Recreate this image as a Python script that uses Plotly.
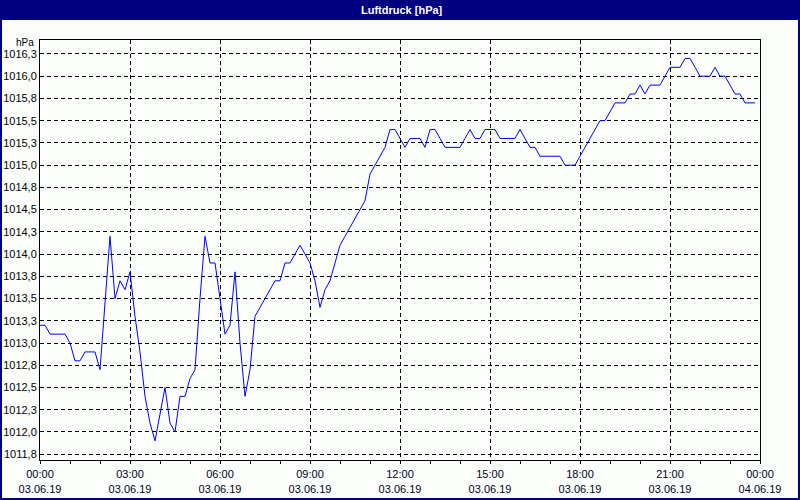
import plotly.graph_objects as go
import pandas as pd

# ---- data (10-minute readings, 03.06.19 00:00 .. 23:50) ----
start_time = "2019-06-03 00:00"
pressure_hpa = [
    1013.2, 1013.2, 1013.1, 1013.1, 1013.1, 1013.1, 1013.0, 1012.8, 1012.8, 1012.9, 1012.9, 1012.9,
    1012.7, 1013.5, 1014.2, 1013.5, 1013.7, 1013.6, 1013.8, 1013.3, 1012.9, 1012.4, 1012.1, 1011.9,
    1012.2, 1012.5, 1012.1, 1012.0, 1012.4, 1012.4, 1012.6, 1012.7, 1013.5, 1014.2, 1013.9, 1013.9,
    1013.5, 1013.1, 1013.2, 1013.8, 1013.0, 1012.4, 1012.7, 1013.3, 1013.4, 1013.5, 1013.6, 1013.7,
    1013.7, 1013.9, 1013.9, 1014.0, 1014.1, 1014.0, 1013.9, 1013.7, 1013.4, 1013.6, 1013.7, 1013.9,
    1014.1, 1014.2, 1014.3, 1014.4, 1014.5, 1014.6, 1014.9, 1015.0, 1015.1, 1015.2, 1015.4, 1015.4,
    1015.3, 1015.2, 1015.3, 1015.3, 1015.3, 1015.2, 1015.4, 1015.4, 1015.3, 1015.2, 1015.2, 1015.2,
    1015.2, 1015.3, 1015.4, 1015.3, 1015.3, 1015.4, 1015.4, 1015.4, 1015.3, 1015.3, 1015.3, 1015.3,
    1015.4, 1015.3, 1015.2, 1015.2, 1015.1, 1015.1, 1015.1, 1015.1, 1015.1, 1015.0, 1015.0, 1015.0,
    1015.1, 1015.2, 1015.3, 1015.4, 1015.5, 1015.5, 1015.6, 1015.7, 1015.7, 1015.7, 1015.8, 1015.8,
    1015.9, 1015.8, 1015.9, 1015.9, 1015.9, 1016.0, 1016.1, 1016.1, 1016.1, 1016.2, 1016.2, 1016.1,
    1016.0, 1016.0, 1016.0, 1016.1, 1016.0, 1016.0, 1015.9, 1015.8, 1015.8, 1015.7, 1015.7, 1015.7,
]
times = pd.date_range(start_time, periods=len(pressure_hpa), freq="10min")

y_tick_values = [1011.75, 1012.0, 1012.25, 1012.5, 1012.75, 1013.0, 1013.25, 1013.5, 1013.75,
                 1014.0, 1014.25, 1014.5, 1014.75, 1015.0, 1015.25, 1015.5, 1015.75, 1016.0, 1016.25]
y_tick_labels = ["1011,8", "1012,0", "1012,3", "1012,5", "1012,8", "1013,0", "1013,3", "1013,5", "1013,8",
                 "1014,0", "1014,3", "1014,5", "1014,8", "1015,0", "1015,3", "1015,5", "1015,8", "1016,0", "1016,3"]

x_tick_values = ["2019-06-03 00:00", "2019-06-03 03:00", "2019-06-03 06:00", "2019-06-03 09:00",
                 "2019-06-03 12:00", "2019-06-03 15:00", "2019-06-03 18:00", "2019-06-03 21:00",
                 "2019-06-04 00:00"]
x_tick_labels = ["00:00<br>03.06.19", "03:00<br>03.06.19", "06:00<br>03.06.19", "09:00<br>03.06.19",
                 "12:00<br>03.06.19", "15:00<br>03.06.19", "18:00<br>03.06.19", "21:00<br>03.06.19",
                 "00:00<br>04.06.19"]

title_text = "Luftdruck [hPa]"
unit_text = "hPa"

# ---- styling ----
FONT = "Liberation Sans Narrow, Liberation Sans, Arial, sans-serif"
NAVY = "#000080"
BG = "#fcfefc"
W, H = 800, 500
ML, MR, MT, MB = 40, 40, 40, 40
PW, PH = W - ML - MR, H - MT - MB


def px_x(p):
    return (p - ML) / PW


def px_y(p):
    return (H - MB - p) / PH


fig = go.Figure()
fig.add_trace(go.Scatter(x=times, y=pressure_hpa, mode="lines",
                         line=dict(color="#0000ff", width=1), hoverinfo="skip"))

fig.update_layout(
    width=W, height=H,
    margin=dict(l=ML, r=MR, t=MT, b=MB, pad=0, autoexpand=False),
    paper_bgcolor=BG, plot_bgcolor=BG,
    showlegend=False,
    font=dict(family=FONT, size=11, color="black"),
)

fig.update_xaxes(
    range=["2019-06-03 00:00", "2019-06-04 00:00"],
    tickmode="array", tickvals=x_tick_values, ticktext=x_tick_labels,
    showgrid=True, gridcolor="black", gridwidth=1, griddash="4px,3px",
    showline=True, linecolor="black", linewidth=1, mirror=True,
    ticks="outside", ticklen=3, tickcolor="black", tickwidth=1,
    minor=dict(tick0="2019-06-03 00:00", dtick=3600000, ticks="outside", ticklen=3,
               tickcolor="black", tickwidth=1, showgrid=False),
    zeroline=False, automargin=False, ticklabelstandoff=1,
    tickfont=dict(family=FONT, size=11, color="#000020"),
)
fig.update_yaxes(
    range=[1011.685, 1016.407],
    tickmode="array", tickvals=y_tick_values, ticktext=y_tick_labels,
    showgrid=True, gridcolor="black", gridwidth=1, griddash="4px,3px",
    showline=True, linecolor="black", linewidth=1, mirror=True,
    ticks="", zeroline=False, automargin=False,
    tickfont=dict(family=FONT, size=11, color="black"),
)

# title bar and outer border
fig.add_shape(type="rect", xref="paper", yref="paper",
              x0=px_x(0), x1=px_x(W), y0=px_y(20), y1=px_y(0),
              fillcolor=NAVY, line=dict(width=0), layer="above")
fig.add_shape(type="rect", xref="paper", yref="paper",
              x0=px_x(1), x1=px_x(W - 1), y0=px_y(H - 1), y1=px_y(1),
              fillcolor="rgba(0,0,0,0)", line=dict(color=NAVY, width=2), layer="above")

fig.add_annotation(text="<b>" + title_text + "</b>", xref="paper", yref="paper",
                   x=px_x(W / 2 + 2), y=px_y(10), xanchor="center", yanchor="middle",
                   showarrow=False, font=dict(family=FONT, size=11, color="white"))
fig.add_annotation(text=unit_text, xref="paper", yref="paper",
                   x=px_x(36), y=px_y(43), xanchor="right", yanchor="middle",
                   showarrow=False, font=dict(family=FONT, size=10, color="black"))

fig.write_html(
    "out.html",
    config={"displayModeBar": False},
    post_script="document.body.style.margin='0';document.body.style.padding='0';"
                "document.body.style.overflow='hidden';",
)
